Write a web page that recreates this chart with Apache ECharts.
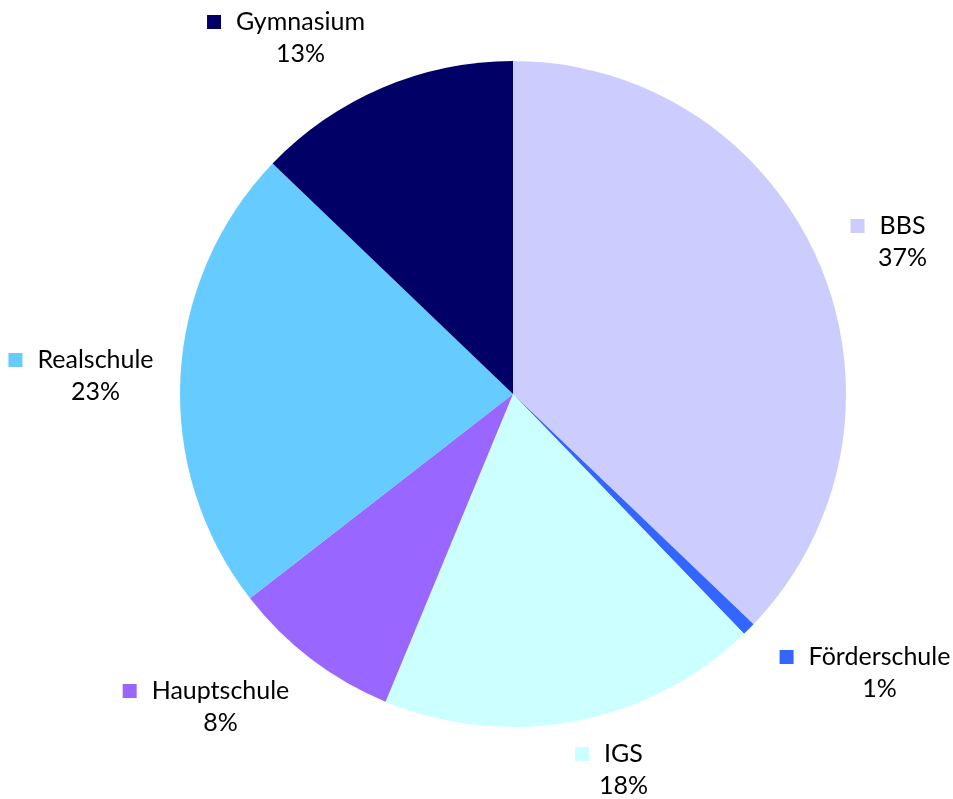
<!DOCTYPE html>
<html>
<head>
<meta charset="utf-8">
<script src="https://cdn.jsdelivr.net/npm/echarts@6/dist/echarts.min.js"></script>
<style>
  html, body { margin: 0; padding: 0; background: #fff; }
  #chart { width: 953px; height: 799px; }
</style>
</head>
<body>
<div id="chart"></div>
<script>
const schools = ['BBS', 'Förderschule', 'IGS', 'Hauptschule', 'Realschule', 'Gymnasium']
const shares = [37.15, 0.65, 18.45, 8.24, 22.67, 12.84]
const colors = ['#CCCCFF', '#3366FF', '#CCFFFF', '#9966FF', '#66CCFF', '#000066']

// where Excel put each data label (block centre, px)
const labelSpots = [
  [888, 242],
  [865, 673],
  [609, 770],
  [206, 707],
  [81, 376],
  [286, 38],
]

const chart = echarts.init(document.getElementById('chart'), null, { renderer: 'canvas' })

const data = schools.map((name, i) => ({
  name,
  value: shares[i],
  itemStyle: { color: colors[i] },
  label: { rich: { m: { backgroundColor: colors[i] } } },
}))

chart.setOption({
  animation: false,
  series: [
    {
      type: 'pie',
      center: [513, 394],
      radius: 333,
      startAngle: 90,
      clockwise: true,
      avoidLabelOverlap: false,
      itemStyle: { borderWidth: 0 },
      labelLine: { show: false },
      label: {
        show: true,
        position: 'outside',
        fontFamily: 'Lato',
        fontSize: 25,
        color: '#000',
        align: 'center',
        lineHeight: 32,
        formatter: (p) => `{m|}{n|${p.name}}\n{p|${Math.round(p.percent)}%}`,
        rich: {
          m: { width: 14, height: 14, padding: 0 },
          n: { fontFamily: 'Lato', fontSize: 25, color: '#000', padding: [0, 0, 0, 15], lineHeight: 32 },
          p: { fontFamily: 'Lato', fontSize: 25, color: '#000', padding: [0, 0, 0, 29], lineHeight: 32 },
        },
      },
      labelLayout: (params) => {
        const spot = labelSpots[params.dataIndex]
        return { x: spot[0], y: spot[1], align: 'center', verticalAlign: 'middle' }
      },
      data,
    },
  ],
})
</script>
</body>
</html>
